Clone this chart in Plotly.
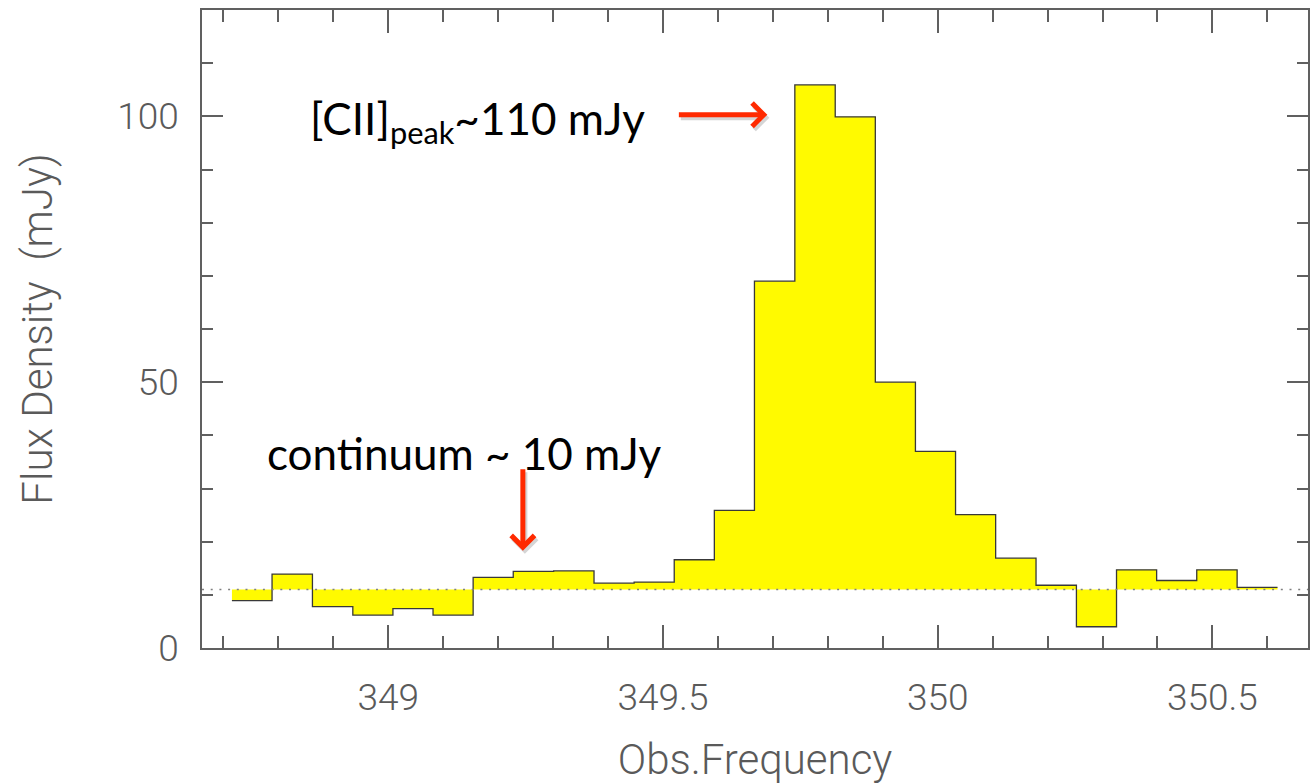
import plotly.graph_objects as go

# [CII] spectrum: channel centre frequencies (GHz) and flux densities (mJy)
freq_ghz = [348.752, 348.825, 348.899, 348.972, 349.045, 349.118, 349.191,
            349.264, 349.338, 349.411, 349.484, 349.557, 349.630, 349.703,
            349.777, 349.850, 349.923, 349.996, 350.069, 350.142, 350.216,
            350.289, 350.362, 350.435, 350.508, 350.582]
flux_mjy = [8.9, 13.9, 7.8, 6.2, 7.4, 6.2, 13.3, 14.4, 14.5, 12.2, 12.4,
            16.6, 25.9, 69.0, 105.9, 99.9, 50.0, 37.0, 25.1, 16.9, 11.8,
            4.0, 14.7, 12.7, 14.7, 11.4]
continuum_mjy = 11.0

x_range = [348.661, 350.674]
y_range = [0, 120]

# channel edges from the centres
half = (freq_ghz[1] - freq_ghz[0]) / 2
edges = ([freq_ghz[0] - half]
         + [(a + b) / 2 for a, b in zip(freq_ghz[:-1], freq_ghz[1:])]
         + [freq_ghz[-1] + half])
step_y = flux_mjy + [flux_mjy[-1]]

AXIS_GREY = "#606060"
TICK_FONT = dict(family="Roboto", size=37, color="#5a5a5a", weight=300)
TITLE_FONT = dict(family="Roboto", size=42, color="#5a5a5a", weight=300)
NOTE_FONT = dict(family="Lato", size=44, color="#000000")
ARROW_RED = "#ff2a00"

fig = go.Figure()

# continuum level used as the fill reference
fig.add_trace(go.Scatter(
    x=[edges[0], edges[-1]], y=[continuum_mjy, continuum_mjy],
    mode="lines", line=dict(width=0, color="rgba(0,0,0,0)"),
    hoverinfo="skip", showlegend=False))

# histogram-style spectrum, filled against the continuum
fig.add_trace(go.Scatter(
    x=edges, y=step_y, mode="lines", line_shape="hv",
    line=dict(color="#383838", width=1.3),
    fill="tonexty", fillcolor="#fffa00",
    showlegend=False))

# dotted continuum line across the whole panel
fig.add_shape(type="line", xref="paper", x0=0, x1=1, yref="y",
              y0=continuum_mjy, y1=continuum_mjy,
              line=dict(color="#808080", width=1.6, dash="2px,6.7px"),
              layer="above")

axis_common = dict(
    showline=True, linecolor=AXIS_GREY, linewidth=1.6, mirror="allticks",
    ticks="inside", tickcolor=AXIS_GREY, tickwidth=1.5,
    showgrid=False, zeroline=False, tickfont=TICK_FONT,
)

fig.update_xaxes(
    range=x_range, tick0=349, dtick=0.5, ticklen=23,
    minor=dict(dtick=0.1, ticklen=12, ticks="inside",
               tickcolor=AXIS_GREY, tickwidth=1.5, showgrid=False),
    ticklabelstandoff=16,
    title=dict(text="Obs.Frequency", font=TITLE_FONT, standoff=30),
    **axis_common)
fig.update_yaxes(
    range=y_range, tick0=0, dtick=50, ticklen=21,
    minor=dict(dtick=10, ticklen=11, ticks="inside",
               tickcolor=AXIS_GREY, tickwidth=1.5, showgrid=False),
    ticklabelstandoff=14,
    title=dict(text="Flux Density  (mJy)", font=TITLE_FONT, standoff=52),
    **axis_common)

annotations = [
    dict(text="[CII]<sub>peak</sub>~110 mJy", xref="paper", yref="paper",
         x=0.0955, y=0.826, xanchor="left", yanchor="middle",
         showarrow=False, font=NOTE_FONT),
    dict(text="continuum ~ 10 mJy", xref="paper", yref="paper",
         x=0.057, y=0.306, xanchor="left", yanchor="middle",
         showarrow=False, font=NOTE_FONT),
]

# arrows (with a soft shadow underneath)
arrows = [
    dict(x=349.690, y=100.3, ax=-90, ay=0),
    dict(x=349.245, y=18.3, ax=0, ay=-83),
]
for a in arrows:
    annotations.append(dict(
        x=a["x"], y=a["y"], xref="x", yref="y", ax=a["ax"], ay=a["ay"],
        xshift=2, yshift=-3, text="", showarrow=True, arrowhead=4,
        arrowsize=0.9, arrowwidth=5, arrowcolor="rgba(0,0,0,0.16)"))
    annotations.append(dict(
        x=a["x"], y=a["y"], xref="x", yref="y", ax=a["ax"], ay=a["ay"],
        text="", showarrow=True, arrowhead=4, arrowsize=0.9, arrowwidth=5,
        arrowcolor=ARROW_RED))

fig.update_layout(
    width=1314, height=784,
    margin=dict(l=202, r=4, t=10, b=135.5),
    paper_bgcolor="white", plot_bgcolor="white",
    annotations=annotations,
)

fig.write_html("out.html")
